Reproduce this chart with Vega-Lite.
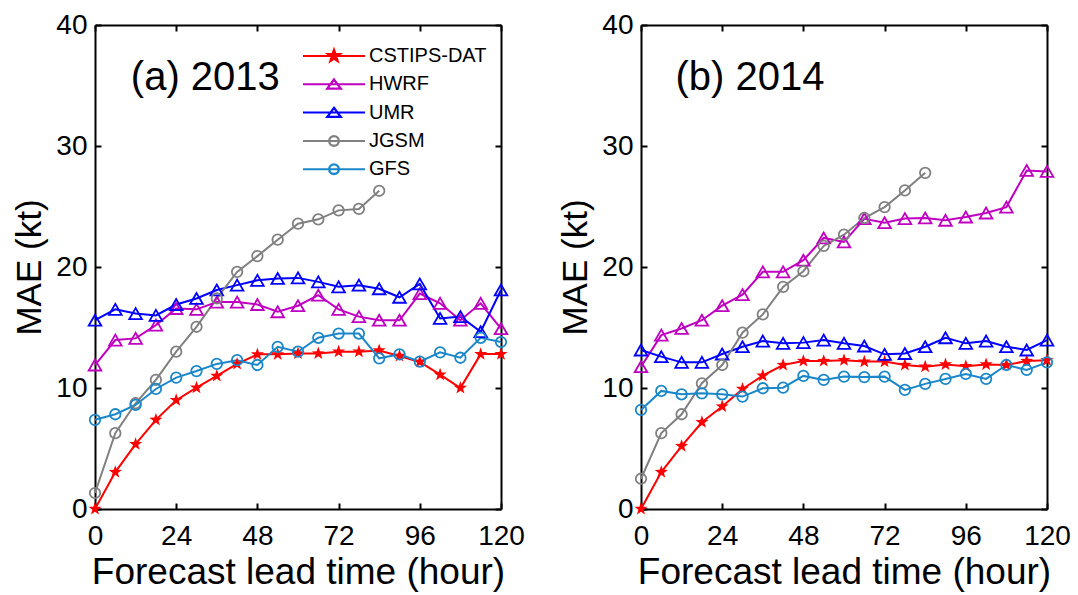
{
  "$schema": "https://vega.github.io/schema/vega-lite/v6.json",
  "background": "white",
  "padding": {"left": 12, "top": 11, "right": 5, "bottom": 5},
  "spacing": 33,
  "datasets": {
    "a": [
      {"m":"CSTIPS-DAT","h":0,"v":0},{"m":"CSTIPS-DAT","h":6,"v":3.05},{"m":"CSTIPS-DAT","h":12,"v":5.36},{"m":"CSTIPS-DAT","h":18,"v":7.37},{"m":"CSTIPS-DAT","h":24,"v":8.99},{"m":"CSTIPS-DAT","h":30,"v":10.03},{"m":"CSTIPS-DAT","h":36,"v":11.0},{"m":"CSTIPS-DAT","h":42,"v":11.99},{"m":"CSTIPS-DAT","h":48,"v":12.78},{"m":"CSTIPS-DAT","h":54,"v":12.78},{"m":"CSTIPS-DAT","h":60,"v":12.85},{"m":"CSTIPS-DAT","h":66,"v":12.85},{"m":"CSTIPS-DAT","h":72,"v":13.0},{"m":"CSTIPS-DAT","h":78,"v":13.0},{"m":"CSTIPS-DAT","h":84,"v":13.1},{"m":"CSTIPS-DAT","h":90,"v":12.65},{"m":"CSTIPS-DAT","h":96,"v":12.15},{"m":"CSTIPS-DAT","h":102,"v":11.1},{"m":"CSTIPS-DAT","h":108,"v":10.0},{"m":"CSTIPS-DAT","h":114,"v":12.8},{"m":"CSTIPS-DAT","h":120,"v":12.8},
      {"m":"HWRF","h":0,"v":11.9},{"m":"HWRF","h":6,"v":13.96},{"m":"HWRF","h":12,"v":14.1},{"m":"HWRF","h":18,"v":15.2},{"m":"HWRF","h":24,"v":16.57},{"m":"HWRF","h":30,"v":16.5},{"m":"HWRF","h":36,"v":17.1},{"m":"HWRF","h":42,"v":17.1},{"m":"HWRF","h":48,"v":16.9},{"m":"HWRF","h":54,"v":16.3},{"m":"HWRF","h":60,"v":16.8},{"m":"HWRF","h":66,"v":17.67},{"m":"HWRF","h":72,"v":16.5},{"m":"HWRF","h":78,"v":15.9},{"m":"HWRF","h":84,"v":15.6},{"m":"HWRF","h":90,"v":15.6},{"m":"HWRF","h":96,"v":17.8},{"m":"HWRF","h":102,"v":17.0},{"m":"HWRF","h":108,"v":15.6},{"m":"HWRF","h":114,"v":17.0},{"m":"HWRF","h":120,"v":14.9},
      {"m":"UMR","h":0,"v":15.6},{"m":"UMR","h":6,"v":16.5},{"m":"UMR","h":12,"v":16.15},{"m":"UMR","h":18,"v":16.0},{"m":"UMR","h":24,"v":16.9},{"m":"UMR","h":30,"v":17.4},{"m":"UMR","h":36,"v":18.1},{"m":"UMR","h":42,"v":18.5},{"m":"UMR","h":48,"v":18.9},{"m":"UMR","h":54,"v":19.05},{"m":"UMR","h":60,"v":19.1},{"m":"UMR","h":66,"v":18.77},{"m":"UMR","h":72,"v":18.36},{"m":"UMR","h":78,"v":18.5},{"m":"UMR","h":84,"v":18.2},{"m":"UMR","h":90,"v":17.5},{"m":"UMR","h":96,"v":18.6},{"m":"UMR","h":102,"v":15.75},{"m":"UMR","h":108,"v":15.9},{"m":"UMR","h":114,"v":14.65},{"m":"UMR","h":120,"v":18.1},
      {"m":"JGSM","h":0,"v":1.32},{"m":"JGSM","h":6,"v":6.27},{"m":"JGSM","h":12,"v":8.74},{"m":"JGSM","h":18,"v":10.67},{"m":"JGSM","h":24,"v":13.0},{"m":"JGSM","h":30,"v":15.06},{"m":"JGSM","h":36,"v":17.4},{"m":"JGSM","h":42,"v":19.6},{"m":"JGSM","h":48,"v":20.9},{"m":"JGSM","h":54,"v":22.26},{"m":"JGSM","h":60,"v":23.58},{"m":"JGSM","h":66,"v":23.94},{"m":"JGSM","h":72,"v":24.68},{"m":"JGSM","h":78,"v":24.8},{"m":"JGSM","h":84,"v":26.3},
      {"m":"GFS","h":0,"v":7.37},{"m":"GFS","h":6,"v":7.83},{"m":"GFS","h":12,"v":8.6},{"m":"GFS","h":18,"v":9.92},{"m":"GFS","h":24,"v":10.86},{"m":"GFS","h":30,"v":11.4},{"m":"GFS","h":36,"v":11.99},{"m":"GFS","h":42,"v":12.3},{"m":"GFS","h":48,"v":11.9},{"m":"GFS","h":54,"v":13.4},{"m":"GFS","h":60,"v":13.0},{"m":"GFS","h":66,"v":14.15},{"m":"GFS","h":72,"v":14.5},{"m":"GFS","h":78,"v":14.5},{"m":"GFS","h":84,"v":12.45},{"m":"GFS","h":90,"v":12.78},{"m":"GFS","h":96,"v":12.18},{"m":"GFS","h":102,"v":12.95},{"m":"GFS","h":108,"v":12.5},{"m":"GFS","h":114,"v":14.15},{"m":"GFS","h":120,"v":13.8}
    ],
    "b": [
      {"m":"CSTIPS-DAT","h":0,"v":0},{"m":"CSTIPS-DAT","h":6,"v":3.05},{"m":"CSTIPS-DAT","h":12,"v":5.2},{"m":"CSTIPS-DAT","h":18,"v":7.17},{"m":"CSTIPS-DAT","h":24,"v":8.47},{"m":"CSTIPS-DAT","h":30,"v":9.92},{"m":"CSTIPS-DAT","h":36,"v":11.02},{"m":"CSTIPS-DAT","h":42,"v":11.9},{"m":"CSTIPS-DAT","h":48,"v":12.23},{"m":"CSTIPS-DAT","h":54,"v":12.23},{"m":"CSTIPS-DAT","h":60,"v":12.3},{"m":"CSTIPS-DAT","h":66,"v":12.18},{"m":"CSTIPS-DAT","h":72,"v":12.18},{"m":"CSTIPS-DAT","h":78,"v":11.9},{"m":"CSTIPS-DAT","h":84,"v":11.76},{"m":"CSTIPS-DAT","h":90,"v":11.95},{"m":"CSTIPS-DAT","h":96,"v":11.8},{"m":"CSTIPS-DAT","h":102,"v":11.95},{"m":"CSTIPS-DAT","h":108,"v":11.9},{"m":"CSTIPS-DAT","h":114,"v":12.23},{"m":"CSTIPS-DAT","h":120,"v":12.3},
      {"m":"HWRF","h":0,"v":11.76},{"m":"HWRF","h":6,"v":14.37},{"m":"HWRF","h":12,"v":14.92},{"m":"HWRF","h":18,"v":15.6},{"m":"HWRF","h":24,"v":16.8},{"m":"HWRF","h":30,"v":17.72},{"m":"HWRF","h":36,"v":19.6},{"m":"HWRF","h":42,"v":19.6},{"m":"HWRF","h":48,"v":20.56},{"m":"HWRF","h":54,"v":22.4},{"m":"HWRF","h":60,"v":22.07},{"m":"HWRF","h":66,"v":23.99},{"m":"HWRF","h":72,"v":23.66},{"m":"HWRF","h":78,"v":24.0},{"m":"HWRF","h":84,"v":24.05},{"m":"HWRF","h":90,"v":23.86},{"m":"HWRF","h":96,"v":24.13},{"m":"HWRF","h":102,"v":24.46},{"m":"HWRF","h":108,"v":24.95},{"m":"HWRF","h":114,"v":27.98},{"m":"HWRF","h":120,"v":27.9},
      {"m":"UMR","h":0,"v":13.14},{"m":"UMR","h":6,"v":12.59},{"m":"UMR","h":12,"v":12.12},{"m":"UMR","h":18,"v":12.12},{"m":"UMR","h":24,"v":12.81},{"m":"UMR","h":30,"v":13.41},{"m":"UMR","h":36,"v":13.88},{"m":"UMR","h":42,"v":13.69},{"m":"UMR","h":48,"v":13.75},{"m":"UMR","h":54,"v":13.96},{"m":"UMR","h":60,"v":13.69},{"m":"UMR","h":66,"v":13.47},{"m":"UMR","h":72,"v":12.78},{"m":"UMR","h":78,"v":12.85},{"m":"UMR","h":84,"v":13.41},{"m":"UMR","h":90,"v":14.15},{"m":"UMR","h":96,"v":13.69},{"m":"UMR","h":102,"v":13.88},{"m":"UMR","h":108,"v":13.41},{"m":"UMR","h":114,"v":13.14},{"m":"UMR","h":120,"v":13.96},
      {"m":"JGSM","h":0,"v":2.5},{"m":"JGSM","h":6,"v":6.27},{"m":"JGSM","h":12,"v":7.83},{"m":"JGSM","h":18,"v":10.39},{"m":"JGSM","h":24,"v":11.9},{"m":"JGSM","h":30,"v":14.57},{"m":"JGSM","h":36,"v":16.08},{"m":"JGSM","h":42,"v":18.36},{"m":"JGSM","h":48,"v":19.65},{"m":"JGSM","h":54,"v":21.74},{"m":"JGSM","h":60,"v":22.67},{"m":"JGSM","h":66,"v":24.05},{"m":"JGSM","h":72,"v":24.95},{"m":"JGSM","h":78,"v":26.33},{"m":"JGSM","h":84,"v":27.78},
      {"m":"GFS","h":0,"v":8.19},{"m":"GFS","h":6,"v":9.76},{"m":"GFS","h":12,"v":9.48},{"m":"GFS","h":18,"v":9.56},{"m":"GFS","h":24,"v":9.48},{"m":"GFS","h":30,"v":9.29},{"m":"GFS","h":36,"v":9.98},{"m":"GFS","h":42,"v":10.03},{"m":"GFS","h":48,"v":11.0},{"m":"GFS","h":54,"v":10.67},{"m":"GFS","h":60,"v":10.94},{"m":"GFS","h":66,"v":10.9},{"m":"GFS","h":72,"v":10.94},{"m":"GFS","h":78,"v":9.84},{"m":"GFS","h":84,"v":10.34},{"m":"GFS","h":90,"v":10.75},{"m":"GFS","h":96,"v":11.16},{"m":"GFS","h":102,"v":10.75},{"m":"GFS","h":108,"v":11.9},{"m":"GFS","h":114,"v":11.49},{"m":"GFS","h":120,"v":12.12}
    ]
  },
  "resolve": {"scale": {"color": "independent"}},
  "hconcat": [
    {
      "width": 406, "height": 484,
      "data": {"name": "a"},
      "resolve": {"axis": {"x": "independent", "y": "independent"}},
      "layer": [
        {
          "mark": {"type": "line", "strokeWidth": 2},
          "encoding": {
            "x": {"field": "h", "type": "quantitative", "scale": {"domain": [0, 120], "nice": false},
                  "axis": {"orient": "bottom", "values": [0,24,48,72,96,120], "title": "Forecast lead time (hour)", "labelPadding": 19, "titlePadding": 4, "titleFontSize": 37, "labelFlush": false}},
            "y": {"field": "v", "type": "quantitative", "scale": {"domain": [0, 40], "nice": false},
                  "axis": {"orient": "left", "values": [0,10,20,30,40], "title": "MAE (kt)", "labelPadding": 14, "titlePadding": 8, "titleFontSize": 35}},
            "color": {"field": "m", "type": "nominal", "scale": {"domain": ["CSTIPS-DAT","HWRF","UMR","JGSM","GFS"], "range": ["#ff0000","#c000c0","#0000ff","#808080","#1a87c9"]},
              "legend": {
                "orient": "none", "legendX": 207, "legendY": 20, "title": null, "padding": 0,
                "symbolSize": 400, "symbolStrokeWidth": 2, "symbolOffset": 21, "labelOffset": 24,
                "labelFontSize": 20, "labelFont": "Liberation Sans", "labelColor": "black", "rowPadding": 7.3,
                "encode": {"symbols": {"update": {
                  "shape": {"signal": "datum.value === 'CSTIPS-DAT' ? 'M-3.1,0L3.1,0M0,-0.65L0.153,-0.211L0.618,-0.201L0.247,0.081L0.382,0.526L0,0.26L-0.382,0.526L-0.247,0.081L-0.618,-0.201L-0.153,-0.211Z' : (datum.value === 'HWRF' || datum.value === 'UMR') ? 'M-3.1,0L3.1,0M0,-0.5L0.7,0.45L-0.7,0.45ZM0,-0.46L-0.65,0.42L0.65,0.42Z' : 'M-3.1,0L3.1,0M-0.5,0A0.5,0.5 0 1,0 0.5,0A0.5,0.5 0 1,0 -0.5,0ZM-0.46,0A0.46,0.46 0 1,1 0.46,0A0.46,0.46 0 1,1 -0.46,0Z'"},
                  "size": {"value": 400}
                }}}
              }},
            "order": {"field": "h", "type": "quantitative"}
          }
        },
        {
          "transform": [{"filter": "datum.m === 'CSTIPS-DAT'"}],
          "mark": {"type": "point", "filled": true, "opacity": 1, "size": 190, "shape": "M0,-1L0.235,-0.324L0.951,-0.309L0.38,0.124L0.588,0.809L0,0.4L-0.588,0.809L-0.38,0.124L-0.951,-0.309L-0.235,-0.324Z"},
          "encoding": {
            "x": {"field": "h", "type": "quantitative", "axis": {"orient": "top", "values": [0,24,48,72,96,120], "labels": false, "title": null}},
            "y": {"field": "v", "type": "quantitative", "axis": {"orient": "right", "values": [0,10,20,30,40], "labels": false, "title": null}},
            "color": {"field": "m", "type": "nominal"}
          }
        },
        {
          "transform": [{"filter": "datum.m === 'HWRF' || datum.m === 'UMR'"}],
          "mark": {"type": "point", "filled": false, "strokeWidth": 1.8, "opacity": 1, "size": 160, "shape": "triangle-up"},
          "encoding": {
            "x": {"field": "h", "type": "quantitative", "axis": null},
            "y": {"field": "v", "type": "quantitative", "axis": null},
            "color": {"field": "m", "type": "nominal"}
          }
        },
        {
          "transform": [{"filter": "datum.m === 'JGSM' || datum.m === 'GFS'"}],
          "mark": {"type": "point", "filled": false, "strokeWidth": 1.8, "opacity": 1, "size": 110, "shape": "circle"},
          "encoding": {
            "x": {"field": "h", "type": "quantitative", "axis": null},
            "y": {"field": "v", "type": "quantitative", "axis": null},
            "color": {"field": "m", "type": "nominal"}
          }
        },
        {
          "data": {"values": [{}]},
          "mark": {"type": "text", "align": "left", "baseline": "alphabetic", "fontSize": 40, "font": "Liberation Sans", "color": "black"},
          "encoding": {
            "x": {"datum": 10.6, "type": "quantitative", "axis": null},
            "y": {"datum": 34.6, "type": "quantitative", "axis": null},
            "text": {"value": "(a) 2013"}
          }
        }
      ]
    },
    {
      "width": 406, "height": 484,
      "data": {"name": "b"},
      "resolve": {"axis": {"x": "independent", "y": "independent"}},
      "layer": [
        {
          "mark": {"type": "line", "strokeWidth": 2},
          "encoding": {
            "x": {"field": "h", "type": "quantitative", "scale": {"domain": [0, 120], "nice": false},
                  "axis": {"orient": "bottom", "values": [0,24,48,72,96,120], "title": "Forecast lead time (hour)", "labelPadding": 19, "titlePadding": 4, "titleFontSize": 37, "labelFlush": false}},
            "y": {"field": "v", "type": "quantitative", "scale": {"domain": [0, 40], "nice": false},
                  "axis": {"orient": "left", "values": [0,10,20,30,40], "title": "MAE (kt)", "labelPadding": 14, "titlePadding": 8, "titleFontSize": 35}},
            "color": {"field": "m", "type": "nominal", "legend": null, "scale": {"domain": ["CSTIPS-DAT","HWRF","UMR","JGSM","GFS"], "range": ["#ff0000","#c000c0","#0000ff","#808080","#1a87c9"]}},
            "order": {"field": "h", "type": "quantitative"}
          }
        },
        {
          "transform": [{"filter": "datum.m === 'CSTIPS-DAT'"}],
          "mark": {"type": "point", "filled": true, "opacity": 1, "size": 190, "shape": "M0,-1L0.235,-0.324L0.951,-0.309L0.38,0.124L0.588,0.809L0,0.4L-0.588,0.809L-0.38,0.124L-0.951,-0.309L-0.235,-0.324Z"},
          "encoding": {
            "x": {"field": "h", "type": "quantitative", "axis": {"orient": "top", "values": [0,24,48,72,96,120], "labels": false, "title": null}},
            "y": {"field": "v", "type": "quantitative", "axis": {"orient": "right", "values": [0,10,20,30,40], "labels": false, "title": null}},
            "color": {"field": "m", "type": "nominal", "legend": null}
          }
        },
        {
          "transform": [{"filter": "datum.m === 'HWRF' || datum.m === 'UMR'"}],
          "mark": {"type": "point", "filled": false, "strokeWidth": 1.8, "opacity": 1, "size": 160, "shape": "triangle-up"},
          "encoding": {
            "x": {"field": "h", "type": "quantitative", "axis": null},
            "y": {"field": "v", "type": "quantitative", "axis": null},
            "color": {"field": "m", "type": "nominal", "legend": null}
          }
        },
        {
          "transform": [{"filter": "datum.m === 'JGSM' || datum.m === 'GFS'"}],
          "mark": {"type": "point", "filled": false, "strokeWidth": 1.8, "opacity": 1, "size": 110, "shape": "circle"},
          "encoding": {
            "x": {"field": "h", "type": "quantitative", "axis": null},
            "y": {"field": "v", "type": "quantitative", "axis": null},
            "color": {"field": "m", "type": "nominal", "legend": null}
          }
        },
        {
          "data": {"values": [{}]},
          "mark": {"type": "text", "align": "left", "baseline": "alphabetic", "fontSize": 40, "font": "Liberation Sans", "color": "black"},
          "encoding": {
            "x": {"datum": 10.2, "type": "quantitative", "axis": null},
            "y": {"datum": 34.6, "type": "quantitative", "axis": null},
            "text": {"value": "(b) 2014"}
          }
        }
      ]
    }
  ],
  "config": {
    "font": "Liberation Sans",
    "view": {"stroke": null},
    "axis": {
      "grid": false, "domainColor": "black", "domainWidth": 2, "tickColor": "black", "tickWidth": 2, "tickSize": -6,
      "labelFont": "Liberation Sans", "labelFontSize": 28, "labelColor": "black", "labelOverlap": false,
      "titleFont": "Liberation Sans", "titleFontWeight": "normal", "titleColor": "black"
    }
  }
}
